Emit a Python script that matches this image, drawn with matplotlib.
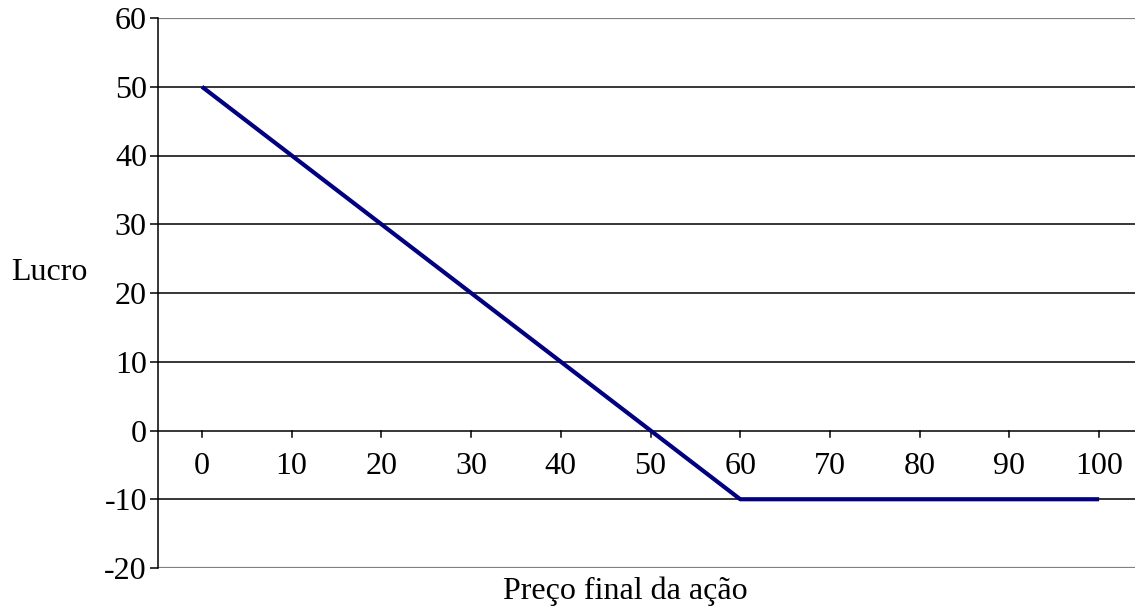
import matplotlib
matplotlib.use("Agg")
import matplotlib.pyplot as plt

prices = [0, 10, 20, 30, 40, 50, 60, 70, 80, 90, 100]
profit = [50, 40, 30, 20, 10, 0, -10, -10, -10, -10, -10]
y_ticks = [-20, -10, 0, 10, 20, 30, 40, 50, 60]

plt.rcParams["font.family"] = ["Liberation Serif", "DejaVu Serif"]

fig = plt.figure(figsize=(11.35, 6.1), dpi=100)
ax = fig.add_axes([158 / 1135, 1 - 568 / 610, (1135 - 158) / 1135, 550 / 610])

ax.set_xlim(-4.9, 104)
ax.set_ylim(-20, 60)

# horizontal gridlines (top/bottom in grey like the plot-area border)
for y in y_ticks:
    edge = y in (y_ticks[0], y_ticks[-1])
    ax.axhline(y, color="#808080" if edge else "black",
               linewidth=1.6 if edge else 1.1, zorder=1)

ax.plot(prices, profit, color="#000080", linewidth=3.0, solid_capstyle="butt", zorder=3)

for s in ["top", "right", "bottom"]:
    ax.spines[s].set_visible(False)
ax.spines["left"].set_color("black")
ax.spines["left"].set_linewidth(1.1)

ax.set_yticks(y_ticks)
ax.set_yticklabels([str(v) for v in y_ticks])
ax.tick_params(axis="y", length=6, width=1.1, direction="out", labelsize=23, pad=2)

# x axis sits at y=0 with ticks pointing down
ax.set_xticks([])
for x in prices:
    ax.plot([x, x], [0, -0.9], color="black", linewidth=1.1, zorder=2)
    ax.text(x, -5.3, str(x), ha="center", va="center", fontsize=23)

fig.text(11 / 1135, 1 - 272 / 610, "Lucro", ha="left", va="center", fontsize=23)
fig.text(625 / 1135, 1 - 591 / 610, "Preço final da ação", ha="center", va="center", fontsize=23)

fig.savefig("out.png", dpi=100)
